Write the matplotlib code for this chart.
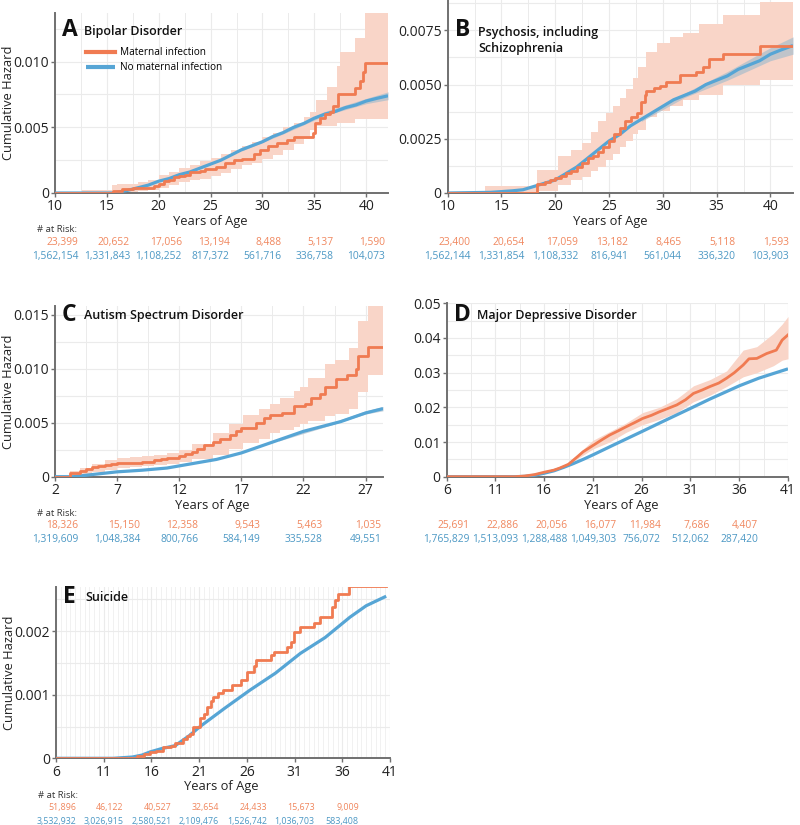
import matplotlib
matplotlib.use('Agg')
import matplotlib.pyplot as plt
from matplotlib.ticker import FixedLocator
import numpy as np

plt.rcParams['font.family'] = ['Open Sans', 'DejaVu Sans']

# ---------------- colours ----------------
ORANGE = '#F07B52'
BAND = '#F9D5C8'
BLUE = '#56A5D5'
BLUE_BAND = '#A9BDCC'
RISK_OR = '#F0875E'
RISK_BL = '#4C98C4'
AXC = '#707070'
GRIDC = '#EBEBEB'

# ---------------- labels ----------------
legend_labels = ['Maternal infection', 'No maternal infection']
ylabel_text = 'Cumulative Hazard'
xlabel_text = 'Years of Age'
risk_header = '# at Risk:'

# ================= Panel A: Bipolar Disorder =================
A_title = 'Bipolar Disorder'
A_xticks = [10, 15, 20, 25, 30, 35, 40]
A_yticks = [0, 0.005, 0.010]
A_yticklabels = ['0', '0.005', '0.010']
A_blue_age = [10, 15.5, 16, 17, 18, 19, 20, 21, 22, 23, 24, 25, 26, 27, 28, 29, 30,
              31, 32, 33, 34, 35, 36, 37, 38, 39, 40, 41, 42.1]
A_blue_val = [0, 0, 0.00005, 0.0002, 0.0004, 0.0006, 0.0009, 0.0011, 0.0014, 0.0016,
              0.0019, 0.0022, 0.0025, 0.0029, 0.0033, 0.0036, 0.0039, 0.0043, 0.0046,
              0.0050, 0.0053, 0.0057, 0.0060, 0.0062, 0.0065, 0.0067, 0.0070, 0.0072, 0.0074]
A_bband_age = [28, 32, 36, 40, 42.1]
A_bband_lo = [0.0032, 0.0045, 0.0059, 0.0068, 0.0071]
A_bband_hi = [0.0034, 0.0047, 0.0062, 0.0072, 0.0077]
A_or_age = [10, 15.6, 16.5, 17.5, 18.5, 19.5, 20.0, 20.5, 21, 21.5, 22, 22.5, 23, 24,
            24.5, 25.5, 26.4, 27.3, 28.0, 29.2, 29.8, 30.5, 31.4, 32.4, 33.0, 34.9,
            35.1, 35.5, 36.0, 36.5, 36.8, 37.3, 38.9, 39.4, 39.7, 39.9, 42.1]
A_or_val = [0, 0.00015, 0.0003, 0.00035, 0.0004, 0.0005, 0.0007, 0.0009, 0.0010,
            0.0012, 0.0013, 0.0014, 0.0016, 0.0017, 0.0018, 0.0020, 0.0023, 0.0025,
            0.0026, 0.0030, 0.0033, 0.0036, 0.0038, 0.0040, 0.0043, 0.0046, 0.0053,
            0.0057, 0.0060, 0.0062, 0.0066, 0.0075, 0.0080, 0.0085, 0.0092, 0.0099, 0.0099]
A_band_age = [12.6, 15.5, 16, 17, 18, 19, 20, 21, 22, 23, 24, 25, 26, 27, 28, 29, 30,
              31, 32, 33, 34, 34.6, 35.2, 36.2, 37.2, 37.5, 38.9, 39.9, 42.1]
A_band_lo = [0, 0, 0.00005, 0.0001, 0.00015, 0.0002, 0.0004, 0.0006, 0.0008, 0.0010,
             0.0011, 0.0013, 0.0015, 0.0018, 0.0021, 0.0023, 0.0026, 0.0029, 0.0033,
             0.0037, 0.0041, 0.0048, 0.0051, 0.0051, 0.0053, 0.0053, 0.0056, 0.0056, 0.0056]
A_band_hi = [0.0002, 0.0006, 0.0007, 0.0007, 0.0008, 0.0010, 0.0014, 0.0016, 0.0019,
             0.0021, 0.0024, 0.0027, 0.0030, 0.0033, 0.0036, 0.0039, 0.0043, 0.0046,
             0.0050, 0.0053, 0.0058, 0.0062, 0.0071, 0.0081, 0.0097, 0.0107, 0.0118,
             0.0145, 0.0145]
A_risk_age = [10, 15, 20, 25, 30, 35, 40]
A_risk_inf = [23399, 20652, 17056, 13194, 8488, 5137, 1590]
A_risk_no = [1562154, 1331843, 1108252, 817372, 561716, 336758, 104073]

# ================= Panel B: Psychosis =================
B_title = 'Psychosis, including\nSchizophrenia'
B_xticks = [10, 15, 20, 25, 30, 35, 40]
B_yticks = [0, 0.0025, 0.0050, 0.0075]
B_yticklabels = ['0', '0.0025', '0.0050', '0.0075']
B_blue_age = [10, 14, 16, 17, 18, 19, 20, 21, 22, 23, 24, 25, 26, 27, 28, 29, 30, 31,
              32, 33, 34, 35, 36, 37, 38, 39, 40, 41, 42.1]
B_blue_val = [0, 0.00003, 0.0001, 0.00015, 0.0003, 0.00045, 0.0006, 0.0009, 0.0012,
              0.0016, 0.0020, 0.0024, 0.0027, 0.0031, 0.0034, 0.0037, 0.0040, 0.0043,
              0.0045, 0.0047, 0.0050, 0.0052, 0.0054, 0.0057, 0.0059, 0.0061, 0.0064,
              0.0066, 0.0068]
B_bband_age = [28, 32, 36, 40, 42.1]
B_bband_lo = [0.0033, 0.0044, 0.0052, 0.0061, 0.0064]
B_bband_hi = [0.0035, 0.0046, 0.0056, 0.0067, 0.0072]
B_or_age = [10, 18.3, 19, 19.5, 20, 20.5, 21, 21.5, 22, 22.5, 23, 23.5, 24, 24.4, 25,
            25.5, 26, 26.5, 27, 27.6, 28, 28.3, 28.4, 29.2, 29.7, 30.3, 31.6, 33.1,
            33.7, 34.3, 35.6, 39.0, 42.1]
B_or_val = [0, 0.0004, 0.0005, 0.0006, 0.0007, 0.0008, 0.0009, 0.0010, 0.0012, 0.0014,
            0.0016, 0.0017, 0.0019, 0.0021, 0.0024, 0.0027, 0.0030, 0.0033, 0.0035,
            0.0037, 0.0042, 0.0045, 0.0047, 0.00485, 0.00495, 0.0051, 0.00546, 0.0056,
            0.0058, 0.0062, 0.0064, 0.0068, 0.0068]
B_band_age = [13.5, 18.3, 20.3, 21.5, 22.5, 23.3, 24, 24.7, 25.4, 26, 26.6, 27.2, 27.7,
              28.4, 29.5, 30.7, 31.9, 33.4, 35.6, 39.0, 42.1]
B_band_hi = [0.0003, 0.00106, 0.0017, 0.0020, 0.0023, 0.0028, 0.0033, 0.0037, 0.0040,
             0.0044, 0.0048, 0.0053, 0.0058, 0.0065, 0.0069, 0.0072, 0.0074, 0.0078,
             0.0082, 0.0088, 0.0088]
B_band_lo = [0, 0.0001, 0.00037, 0.0006, 0.00075, 0.0010, 0.0012, 0.0015, 0.0018,
             0.0021, 0.0024, 0.0027, 0.0029, 0.0035, 0.0038, 0.0040, 0.0043, 0.0045,
             0.0050, 0.0052, 0.0052]
B_risk_age = [10, 15, 20, 25, 30, 35, 40]
B_risk_inf = [23400, 20654, 17059, 13182, 8465, 5118, 1593]
B_risk_no = [1562144, 1331854, 1108332, 816941, 561044, 336320, 103903]

# ================= Panel C: Autism =================
C_title = 'Autism Spectrum Disorder'
C_xticks = [2, 7, 12, 17, 22, 27]
C_yticks = [0, 0.005, 0.010, 0.015]
C_yticklabels = ['0', '0.005', '0.010', '0.015']
C_blue_age = [2, 3.5, 5, 7, 9, 11, 12, 13, 14, 15, 16, 17, 18, 19, 20, 21, 22, 23, 24,
              25, 26, 27, 28.4]
C_blue_val = [0, 0, 0.0002, 0.00045, 0.0006, 0.0008, 0.0010, 0.0012, 0.0014, 0.0016,
              0.0019, 0.0022, 0.0026, 0.0030, 0.0034, 0.0038, 0.0042, 0.0045, 0.0048,
              0.0051, 0.0055, 0.0059, 0.0063]
C_bband_age = [20, 24, 27, 28.4]
C_bband_lo = [0.0033, 0.0047, 0.0058, 0.0061]
C_bband_hi = [0.0035, 0.0049, 0.0061, 0.0065]
C_or_age = [2, 3.2, 4.0, 4.5, 5, 5.5, 6, 6.5, 7, 8, 9, 10, 10.5, 11, 12, 12.5, 13, 13.4,
            14, 14.7, 15.3, 16.1, 16.6, 17.0, 18.2, 18.8, 19.3, 20.3, 21.2, 22.1, 22.6,
            23.3, 23.7, 24.6, 25.5, 26.2, 26.4, 27.2, 28.4]
C_or_val = [0, 0.0003, 0.0005, 0.0007, 0.0009, 0.0010, 0.0011, 0.0012, 0.0013, 0.0013,
            0.0014, 0.0015, 0.0016, 0.0017, 0.0019, 0.0021, 0.0023, 0.0026, 0.0029,
            0.0032, 0.0035, 0.0039, 0.0042, 0.0045, 0.0050, 0.0054, 0.0057, 0.0059,
            0.0065, 0.0067, 0.0073, 0.0077, 0.0083, 0.0090, 0.0094, 0.0100, 0.0112,
            0.0120, 0.0120]
C_band_age = [2.5, 3.2, 4, 5, 6, 7, 8, 9, 10, 11, 12, 13, 14.7, 16, 17.1, 18.4, 19.3,
              20.1, 21.2, 21.7, 22.4, 23.7, 24.5, 25.7, 26.4, 27.2, 28.4]
C_band_hi = [0.0001, 0.0005, 0.0008, 0.0012, 0.0015, 0.0017, 0.0018, 0.0019, 0.0020,
             0.0022, 0.0025, 0.0030, 0.0040, 0.0049, 0.0057, 0.0063, 0.0067, 0.0073,
             0.0079, 0.0083, 0.0091, 0.0104, 0.0108, 0.0119, 0.0144, 0.0158, 0.0158]
C_band_lo = [0, 0.0001, 0.0002, 0.0004, 0.0006, 0.0008, 0.0009, 0.0010, 0.0011, 0.0012,
             0.0014, 0.0016, 0.0020, 0.0026, 0.0031, 0.0035, 0.0040, 0.0043, 0.0046,
             0.0049, 0.0052, 0.0056, 0.0058, 0.0063, 0.0078, 0.0094, 0.0094]
C_risk_age = [2, 7, 12, 17, 22, 27]
C_risk_inf = [18326, 15150, 12358, 9543, 5463, 1035]
C_risk_no = [1319609, 1048384, 800766, 584149, 335528, 49551]

# ================= Panel D: Major Depressive Disorder =================
D_title = 'Major Depressive Disorder'
D_xticks = [6, 11, 16, 21, 26, 31, 36, 41]
D_yticks = [0, 0.01, 0.02, 0.03, 0.04, 0.05]
D_yticklabels = ['0', '0.01', '0.02', '0.03', '0.04', '0.05']
D_blue_age = [6, 13, 14, 15, 16, 17, 18, 19, 20, 21, 23, 26, 28, 31, 33, 36, 38, 41]
D_blue_val = [0, 0, 0.0001, 0.0004, 0.0010, 0.0017, 0.0027, 0.0038, 0.0050, 0.0063,
              0.0090, 0.0130, 0.0157, 0.0197, 0.0224, 0.0262, 0.0284, 0.0311]
D_or_age = [6, 13, 14, 15, 16, 17, 17.6, 18.5, 19.3, 20, 21, 22, 22.7, 23.5, 24.4, 25.2,
            26.1, 27, 27.8, 28.7, 29.6, 30.5, 31.3, 32.2, 33.0, 33.9, 34.7, 35.5, 36.4,
            37.0, 37.8, 38.8, 39.8, 40.4, 41]
D_or_val = [0, 0, 0.0002, 0.0006, 0.0013, 0.0019, 0.0025, 0.0036, 0.0055, 0.0072,
            0.0090, 0.0108, 0.0120, 0.0131, 0.0144, 0.0155, 0.0168, 0.0177, 0.0187,
            0.0197, 0.0207, 0.0222, 0.0240, 0.0250, 0.0260, 0.0270, 0.0284, 0.0300,
            0.0322, 0.0340, 0.0341, 0.0355, 0.0365, 0.0394, 0.0409]
D_band_age = [14, 16, 18, 19.3, 21, 22.7, 24.4, 26.1, 27.8, 29.6, 31.3, 33.0, 34.7,
              36.4, 37.8, 39.5, 40.4, 41]
D_band_hi = [0.0003, 0.0016, 0.0032, 0.0062, 0.0105, 0.0130, 0.0155, 0.0185, 0.0200,
             0.0225, 0.0262, 0.0280, 0.0305, 0.0365, 0.0375, 0.0413, 0.0440, 0.0462]
D_band_lo = [0.0001, 0.0010, 0.0026, 0.0050, 0.0080, 0.0100, 0.0128, 0.0150, 0.0165,
             0.0185, 0.0216, 0.0235, 0.0260, 0.0288, 0.0300, 0.0320, 0.0336, 0.0340]
D_risk_age = [6, 11, 16, 21, 26, 31, 36]
D_risk_inf = [25691, 22886, 20056, 16077, 11984, 7686, 4407]
D_risk_no = [1765829, 1513093, 1288488, 1049303, 756072, 512062, 287420]

# ================= Panel E: Suicide =================
E_title = 'Suicide'
E_xticks = [6, 11, 16, 21, 26, 31, 36, 41]
E_yticks = [0, 0.001, 0.002]
E_yticklabels = ['0', '0.001', '0.002']
E_blue_age = [6, 12, 14, 15, 15.85, 17, 18.5, 20, 21.1, 23.7, 26.3, 29.0, 31.6, 34.2,
              36.8, 38.5, 40.6]
E_blue_val = [0, 0, 0.00002, 0.00005, 0.0001, 0.00015, 0.0002, 0.00036, 0.0005,
              0.00079, 0.00107, 0.00134, 0.00165, 0.0019, 0.00222, 0.0024, 0.00255]
E_or_age = [6, 14.5, 15.2, 15.85, 16.5, 17.25, 18.0, 18.5, 19.3, 19.7, 20.0, 20.4, 21.1,
            21.5, 21.8, 22.2, 22.5, 23.0, 23.5, 24.4, 25.4, 26.0, 26.7, 27.0, 28.5,
            28.8, 30.2, 30.6, 30.9, 31.6, 33.0, 33.7, 34.9, 35.2, 35.6, 36.7, 40.6]
E_or_val = [0, 0.00004, 0.00006, 0.0001, 0.00012, 0.00018, 0.0002, 0.00024, 0.00031,
            0.00035, 0.00039, 0.0005, 0.00063, 0.0007, 0.00081, 0.0009, 0.00097,
            0.00102, 0.00107, 0.00115, 0.00123, 0.00136, 0.00145, 0.00154, 0.00162,
            0.00168, 0.00175, 0.00183, 0.00199, 0.00206, 0.00213, 0.00222, 0.00238,
            0.00249, 0.00258, 0.00271, 0.00271]
E_risk_age = [6, 11, 16, 21, 26, 31, 36]
E_risk_inf = [51896, 46122, 40527, 32654, 24433, 15673, 9009]
E_risk_no = [3532932, 3026915, 2580521, 2109476, 1526742, 1036703, 583408]

# ---------------- figure ----------------
W, H = 800, 825
fig = plt.figure(figsize=(W / 100, H / 100), dpi=100)


def add_axes_px(left, top, right, bottom):
    return fig.add_axes([left / W, 1 - bottom / H, (right - left) / W, (bottom - top) / H])


panels = [
    dict(ax=add_axes_px(55, 13, 388, 193), letter='A', title=A_title,
         letter_y=17, title_y=19,
         xlim=(10, 42.1), ylim=(0, 0.0137), xt=A_xticks, yt=A_yticks, ytl=A_yticklabels,
         xgrid=2.5, ygrid=0.0025,
         blue=(A_blue_age, A_blue_val), bband=(A_bband_age, A_bband_lo, A_bband_hi),
         orange=(A_or_age, A_or_val), band=(A_band_age, A_band_lo, A_band_hi),
         risk=(A_risk_age, A_risk_inf, A_risk_no), ylabel=True, header=True,
         xlab_x=0.465, legend=True, step=True, risk_fs=7.4),
    dict(ax=add_axes_px(447.7, 0, 793, 193), letter='B', title=B_title,
         letter_y=30, title_y=40.5,
         xlim=(10, 42.1), ylim=(0, 0.0089), xt=B_xticks, yt=B_yticks, ytl=B_yticklabels,
         xgrid=2.5, ygrid=0.00125,
         blue=(B_blue_age, B_blue_val), bband=(B_bband_age, B_bband_lo, B_bband_hi),
         orange=(B_or_age, B_or_val), band=(B_band_age, B_band_lo, B_band_hi),
         risk=(B_risk_age, B_risk_inf, B_risk_no), ylabel=False, header=False,
         xlab_x=0.47, legend=False, step=True, risk_fs=7.4),
    dict(ax=add_axes_px(55, 306, 383, 476.7), letter='C', title=C_title,
         letter_y=9, title_y=10,
         xlim=(2, 28.4), ylim=(0, 0.0158), xt=C_xticks, yt=C_yticks, ytl=C_yticklabels,
         xgrid=2.5, ygrid=0.0025,
         blue=(C_blue_age, C_blue_val), bband=(C_bband_age, C_bband_lo, C_bband_hi),
         orange=(C_or_age, C_or_val), band=(C_band_age, C_band_lo, C_band_hi),
         risk=(C_risk_age, C_risk_inf, C_risk_no), ylabel=True, header=True,
         xlab_x=0.48, legend=False, step=True, risk_fs=7.4),
    dict(ax=add_axes_px(446.7, 303.3, 788, 476.7), letter='D', title=D_title,
         letter_y=12, title_y=12,
         xlim=(6, 41), ylim=(0, 0.05), xt=D_xticks, yt=D_yticks, ytl=D_yticklabels,
         xgrid=2.5, ygrid=0.005,
         blue=(D_blue_age, D_blue_val), bband=None,
         orange=(D_or_age, D_or_val), band=(D_band_age, D_band_lo, D_band_hi),
         risk=(D_risk_age, D_risk_inf, D_risk_no), ylabel=False, header=False,
         xlab_x=0.51, legend=False, step=False, risk_fs=7.4),
    dict(ax=add_axes_px(56, 586.7, 390, 758.3), letter='E', title=E_title,
         letter_y=10, title_y=11,
         xlim=(6, 41), ylim=(0, 0.0027), xt=E_xticks, yt=E_yticks, ytl=E_yticklabels,
         xgrid=0.5, ygrid=0.0005,
         blue=(E_blue_age, E_blue_val), bband=None,
         orange=(E_or_age, E_or_val), band=None,
         risk=(E_risk_age, E_risk_inf, E_risk_no), ylabel=True, header=True,
         xlab_x=0.496, legend=False, step=True, risk_fs=6.4),
]

blue_risk_texts = []

for p in panels:
    ax = p['ax']
    h_px = ax.get_position().height * H
    w_px = ax.get_position().width * W
    ax.set_xlim(*p['xlim'])
    ax.set_ylim(*p['ylim'])
    # grid
    gx = np.arange(p['xlim'][0], p['xlim'][1] + 1e-9, p['xgrid'])
    gy = np.arange(0, p['ylim'][1] + 1e-12, p['ygrid'])
    ax.xaxis.set_minor_locator(FixedLocator(gx))
    ax.yaxis.set_minor_locator(FixedLocator(gy))
    gcol = '#F1F1F1' if p['xgrid'] < 1 else GRIDC
    ax.grid(which='minor', axis='x', color=gcol, lw=0.7)
    ax.grid(which='minor', axis='y', color=GRIDC, lw=0.8)
    ax.grid(which='major', color=GRIDC, lw=0.8)
    ax.set_axisbelow(True)
    ax.tick_params(which='minor', length=0)
    ax.set_xticks(p['xt'])
    ax.set_yticks(p['yt'])
    ax.set_yticklabels(p['ytl'])
    ax.tick_params(which='major', direction='out', length=3, width=1.0, color=AXC,
                   labelsize=10, labelcolor='#222222', pad=1.5)
    for s in ['top', 'right']:
        ax.spines[s].set_visible(False)
    for s in ['left', 'bottom']:
        ax.spines[s].set_color(AXC)
        ax.spines[s].set_linewidth(1.4)

    # bands
    if p['band'] is not None:
        bx, blo, bhi = p['band']
        if p['step']:
            ax.fill_between(bx, blo, bhi, step='post', color=BAND, lw=0, zorder=2)
        else:
            ax.fill_between(bx, blo, bhi, color=BAND, lw=0, zorder=2)
    if p['bband'] is not None:
        bx, blo, bhi = p['bband']
        ax.fill_between(bx, blo, bhi, color=BLUE_BAND, alpha=0.7, lw=0, zorder=3)
    # lines
    bxs, bys = p['blue']
    lb, = ax.plot(bxs, bys, color=BLUE, lw=2.3, zorder=4, solid_capstyle='butt')
    oxs, oys = p['orange']
    if p['step']:
        lo_, = ax.step(oxs, oys, where='post', color=ORANGE, lw=2.0, zorder=5)
    else:
        lo_, = ax.plot(oxs, oys, color=ORANGE, lw=2.0, zorder=5)

    # panel letter & title
    ax.text(0.02, 1 - p['letter_y'] / h_px, p['letter'],
            transform=ax.transAxes, fontsize=16.5, fontweight='bold', va='center',
            ha='left', color='#111111')
    ax.text(0.088, 1 - p['title_y'] / h_px, p['title'],
            transform=ax.transAxes, fontsize=9, fontweight='semibold', va='center',
            ha='left', color='#111111', linespacing=1.35)

    if p['legend']:
        ax.legend([lo_, lb], legend_labels, loc='upper left',
                  bbox_to_anchor=(31 / w_px, 1 - 34 / h_px),
                  frameon=False, fontsize=7.2, handlelength=2.9, handletextpad=0.5,
                  labelspacing=0.4, borderaxespad=0, borderpad=0)
        for line in ax.get_legend().get_lines():
            line.set_linewidth(3)

    # axis labels
    ax.set_xlabel(xlabel_text, fontsize=9.3, color='#222222')
    ax.xaxis.set_label_coords(p['xlab_x'], -22 / h_px)
    if p['ylabel']:
        ax.set_ylabel(ylabel_text, fontsize=9.3, color='#222222')
        ax.yaxis.set_label_coords(-40 / w_px, 0.5)

    # at-risk table
    tr = ax.get_xaxis_transform()
    if p['header']:
        ax.text(-18 / w_px, -37 / h_px, risk_header, transform=ax.transAxes,
                fontsize=6.8, color='#333333', ha='left', va='center')
    ages, inf, no = p['risk']
    for a, vi, vn in zip(ages, inf, no):
        tb = ax.text(a, -63 / h_px, f'{vn:,}', transform=tr, fontsize=p['risk_fs'],
                     color=RISK_BL, ha='center', va='center')
        blue_risk_texts.append((ax, tb, vi, -49 / h_px, p['risk_fs']))

fig.canvas.draw()
renderer = fig.canvas.get_renderer()
for ax, tb, vi, yo, fs in blue_risk_texts:
    bb = tb.get_window_extent(renderer)
    xr = ax.transData.inverted().transform((bb.x1, bb.y0))[0]
    ax.text(xr, yo, f'{vi:,}', transform=ax.get_xaxis_transform(), fontsize=fs,
            color=RISK_OR, ha='right', va='center')

fig.savefig('out.png', dpi=100)
